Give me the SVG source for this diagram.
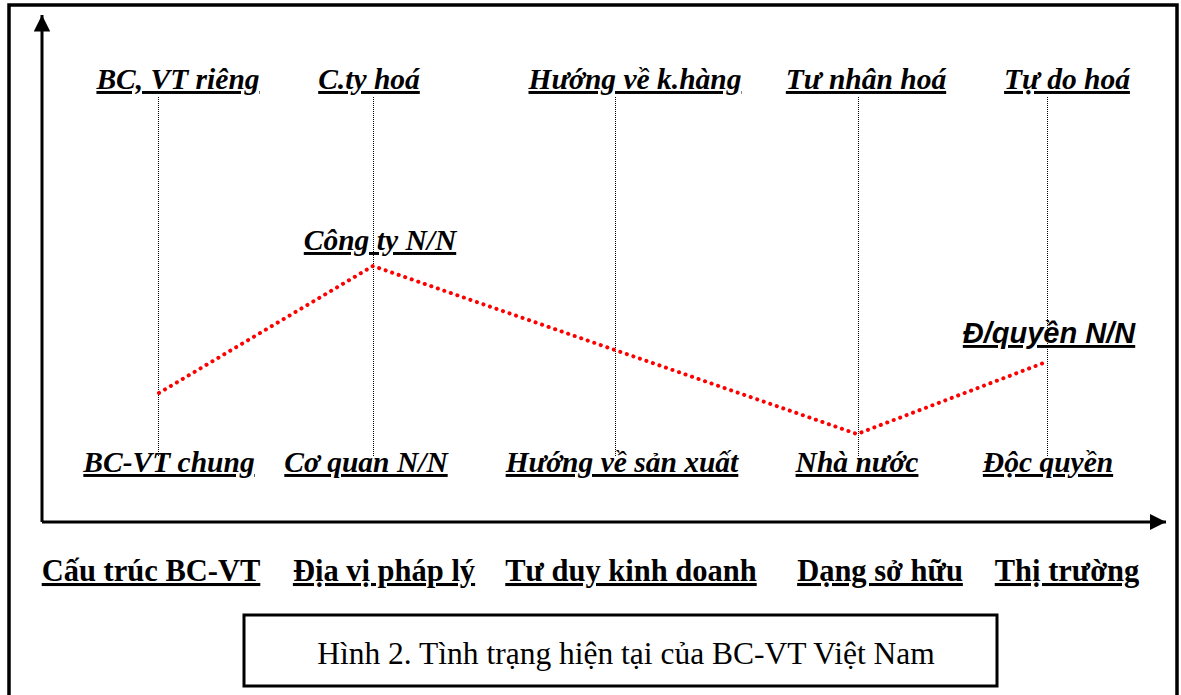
<svg xmlns="http://www.w3.org/2000/svg" width="1181" height="695" viewBox="0 0 1181 695">
<defs>
<style>
.lbl{font-family:"Liberation Serif","Times New Roman",serif;font-weight:bold;font-style:italic;font-size:29.5px;text-decoration:underline;text-decoration-thickness:3px;text-anchor:middle;fill:#000}
.lbls{font-family:"Liberation Sans",Arial,sans-serif;font-weight:bold;font-style:italic;font-size:29px;text-decoration:underline;text-decoration-thickness:3px;text-anchor:middle;fill:#000}
.ax{font-family:"Liberation Serif","Times New Roman",serif;font-weight:bold;font-size:30.5px;text-decoration:underline;text-decoration-thickness:3px;text-anchor:middle;fill:#000}
.cap{font-family:"Liberation Serif","Times New Roman",serif;font-size:31.5px;text-anchor:middle;fill:#000}
.guide{stroke:#000;stroke-width:1;stroke-dasharray:1 1;fill:none}
.trend{stroke:#ff0000;stroke-width:4;stroke-linecap:round;stroke-dasharray:0.1 6.8;fill:none}
.axis{stroke:#000;stroke-width:3;fill:none}
</style>
<marker id="ah" viewBox="0 0 10 10" refX="10" refY="5" markerWidth="5.5" markerHeight="5.5" markerUnits="strokeWidth" orient="auto">
<path d="M0,0 L10,5 L0,10 z" fill="#000"/>
</marker>
</defs>
<rect width="1181" height="695" fill="#fff"/>
<g id="frame">
<path d="M9,695 V5 H1177 V695" fill="none" stroke="#000" stroke-width="3.5"/>
</g>
<g id="connectors">
<line class="axis" x1="42" y1="522" x2="42" y2="15" marker-end="url(#ah)"/>
<line class="axis" x1="42" y1="522" x2="1166" y2="522" marker-end="url(#ah)"/>
<line class="guide" x1="158.5" y1="97" x2="158.5" y2="456"/>
<line class="guide" x1="373.5" y1="97" x2="373.5" y2="456"/>
<line class="guide" x1="615.5" y1="97" x2="615.5" y2="456"/>
<line class="guide" x1="858.5" y1="97" x2="858.5" y2="456"/>
<line class="guide" x1="1047.5" y1="97" x2="1047.5" y2="456"/>
<polyline class="trend" points="159,393 373,266 857,434 1046,362"/>
</g>
<g id="top-labels">
<g id="n-bcvt-rieng"><text class="lbl" x="178" y="89">BC, VT riêng</text></g>
<g id="n-cty-hoa"><text class="lbl" x="369" y="89">C.ty hoá</text></g>
<g id="n-huong-khang"><text class="lbl" x="635" y="89">Hướng về k.hàng</text></g>
<g id="n-tu-nhan-hoa"><text class="lbl" x="866" y="89">Tư nhân hoá</text></g>
<g id="n-tu-do-hoa"><text class="lbl" x="1067" y="89">Tự do hoá</text></g>
</g>
<g id="mid-labels">
<g id="n-cong-ty-nn"><text class="lbl" x="380" y="250">Công ty N/N</text></g>
<g id="n-dquyen-nn"><text class="lbls" x="1049" y="343">Đ/quyền N/N</text></g>
</g>
<g id="bottom-labels">
<g id="n-bcvt-chung"><text class="lbl" x="169" y="472">BC-VT chung</text></g>
<g id="n-co-quan-nn"><text class="lbl" x="366" y="472">Cơ quan N/N</text></g>
<g id="n-huong-sx"><text class="lbl" x="622" y="472">Hướng về sản xuất</text></g>
<g id="n-nha-nuoc"><text class="lbl" x="857" y="472">Nhà nước</text></g>
<g id="n-doc-quyen"><text class="lbl" x="1048" y="472">Độc quyền</text></g>
</g>
<g id="axis-labels">
<g id="n-cau-truc"><text class="ax" x="151" y="581">Cấu trúc BC-VT</text></g>
<g id="n-dia-vi"><text class="ax" x="384" y="581">Địa vị pháp lý</text></g>
<g id="n-tu-duy"><text class="ax" x="631" y="581">Tư duy kinh doanh</text></g>
<g id="n-dang-so-huu"><text class="ax" x="880" y="581">Dạng sở hữu</text></g>
<g id="n-thi-truong"><text class="ax" x="1067" y="581">Thị trường</text></g>
</g>
<g id="caption">
<rect x="244" y="615" width="753" height="71" fill="none" stroke="#000" stroke-width="3"/>
<text class="cap" x="626" y="664">Hình 2. Tình trạng hiện tại của BC-VT Việt Nam</text>
</g>
</svg>
